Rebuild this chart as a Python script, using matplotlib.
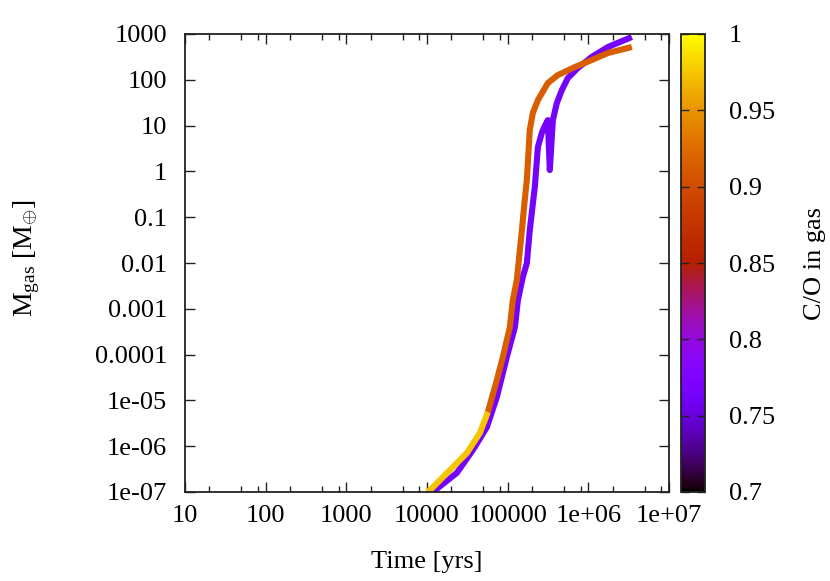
import numpy as np
import matplotlib
matplotlib.use("Agg")
import matplotlib.pyplot as plt
from matplotlib.colors import Normalize
from matplotlib.cm import ScalarMappable
from matplotlib.ticker import FixedLocator, FixedFormatter, NullFormatter

# ---------------- data ----------------
time_orange = [1.0e4, 1.09e4, 1.92e4, 3.12e4, 4.52e4, 5.69e4, 7.35e4, 8.73e4,
               1.065e5, 1.16e5, 1.30e5, 1.50e5, 1.63e5, 1.73e5, 1.88e5, 2.05e5,
               2.37e5, 3.15e5, 4.19e5, 6.81e5, 1.10e6, 1.75e6, 3.46e6]
mgas_orange = [1e-7, 1.1e-7, 3.0e-7, 7.1e-7, 1.94e-6, 5.6e-6, 2.8e-5, 8.9e-5,
               4.0e-4, 1.56e-3, 4.3e-3, 0.052, 0.24, 0.65, 8.0, 18.8,
               36, 85, 127, 190, 270, 385, 520]
co_orange = [0.975, 0.975, 0.975, 0.975, 0.975, 0.975, 0.915, 0.915,
             0.915, 0.915, 0.915, 0.915, 0.915, 0.915, 0.915, 0.915,
             0.915, 0.915, 0.915, 0.915, 0.915, 0.915, 0.915]

time_purple = [1.18e4, 2.34e4, 3.71e4, 5.52e4, 7.35e4, 9.77e4, 1.23e5, 1.34e5,
               1.54e5, 1.73e5, 1.88e5, 2.17e5, 2.37e5, 2.65e5, 2.81e5, 3.06e5,
               3.15e5, 3.33e5, 3.63e5, 4.07e5, 4.70e5, 5.57e5, 7.41e5, 1.10e6,
               1.75e6, 3.46e6]
mgas_purple = [1e-7, 2.6e-7, 8.3e-7, 2.6e-6, 1.19e-5, 8.9e-5, 4.0e-4, 1.56e-3,
               4.9e-3, 0.01, 0.052, 0.46, 3.4, 6.9, 8.9, 12,
               13.2, 1.07, 13.2, 31, 60, 109, 181, 315,
               520, 860]
co_purple = [0.765] * 26

x_ticks = [10, 100, 1e3, 1e4, 1e5, 1e6, 1e7]
x_tick_labels = ["10", "100", "1000", "10000", "100000", "1e+06", "1e+07"]
y_ticks = [1e-7, 1e-6, 1e-5, 1e-4, 1e-3, 1e-2, 1e-1, 1, 10, 100, 1000]
y_tick_labels = ["1e-07", "1e-06", "1e-05", "0.0001", "0.001", "0.01", "0.1",
                 "1", "10", "100", "1000"]
cb_ticks = [0.7, 0.75, 0.8, 0.85, 0.9, 0.95, 1.0]
cb_tick_labels = ["0.7", "0.75", "0.8", "0.85", "0.9", "0.95", "1"]

# ---------------- style ----------------
plt.rcParams['font.family'] = ['Liberation Serif', 'DejaVu Serif']
plt.rcParams['mathtext.fontset'] = 'custom'
plt.rcParams['mathtext.rm'] = 'Liberation Serif'
plt.rcParams['mathtext.it'] = 'Liberation Serif:italic'
FS = 19

W, H = 830, 581
fig = plt.figure(figsize=(W / 100, H / 100), dpi=100)
ax = fig.add_axes([185 / W, (H - 492) / H, 484 / W, 458 / H])
cax = fig.add_axes([681 / W, (H - 492) / H, 24 / W, 458 / H])

cmap = plt.get_cmap('gnuplot')
norm = Normalize(0.7, 1.0)


def draw_curve(t, m, c):
    t = np.asarray(t); m = np.asarray(m); c = np.asarray(c)
    seg_c = c[1:]
    i = 0
    n = len(seg_c)
    while i < n:
        j = i
        while j + 1 < n and seg_c[j + 1] == seg_c[i]:
            j += 1
        ax.plot(t[i:j + 2], m[i:j + 2], color=cmap(norm(seg_c[i])), lw=4.4,
                solid_capstyle='butt', solid_joinstyle='round')
        i = j + 1


draw_curve(time_purple, mgas_purple, co_purple)
draw_curve(time_orange, mgas_orange, co_orange)

ax.set_xscale('log')
ax.set_yscale('log')
ax.set_xlim(10, 1e7)
ax.set_ylim(1e-7, 1000)

ax.xaxis.set_major_locator(FixedLocator(x_ticks))
ax.xaxis.set_major_formatter(FixedFormatter(x_tick_labels))
minor_x = [d * f for d in x_ticks[:-1] for f in (2, 5, 8)]
ax.xaxis.set_minor_locator(FixedLocator(minor_x))
ax.xaxis.set_minor_formatter(NullFormatter())
ax.yaxis.set_major_locator(FixedLocator(y_ticks))
ax.yaxis.set_major_formatter(FixedFormatter(y_tick_labels))
ax.yaxis.set_minor_locator(FixedLocator([]))

ax.tick_params(which='both', direction='in', top=True, right=True,
               labelsize=FS, color='#222222', width=1.0)
ax.tick_params(which='major', length=7)
ax.tick_params(which='minor', length=4)
ax.tick_params(axis='x', pad=9)
ax.tick_params(axis='y', pad=13)
for s in ax.spines.values():
    s.set_linewidth(1.3)
    s.set_color('#222222')

cb = fig.colorbar(ScalarMappable(norm=norm, cmap=cmap), cax=cax)
cb.set_ticks(cb_ticks)
cb.set_ticklabels(cb_tick_labels)
cax.tick_params(axis='y', direction='in', left=True, right=True,
                labelleft=False, labelright=True, length=6, width=1.0,
                labelsize=FS, pad=17, color='#222222')
cb.outline.set_linewidth(1.3)
cb.outline.set_edgecolor('#222222')

fig.text(427 / W, 1 - 562 / H, 'Time [yrs]', ha='center', va='center', fontsize=FS)
fig.text(27 / W, 1 - 258 / H, r'M$_{\mathrm{gas}}$ [M$_{\oplus}$]', ha='center',
         va='center', rotation=90, fontsize=FS + 1)
fig.text(815 / W, 1 - 263 / H, 'C/O in gas', ha='center', va='center',
         rotation=90, fontsize=FS)

fig.savefig('out.png', dpi=100)
